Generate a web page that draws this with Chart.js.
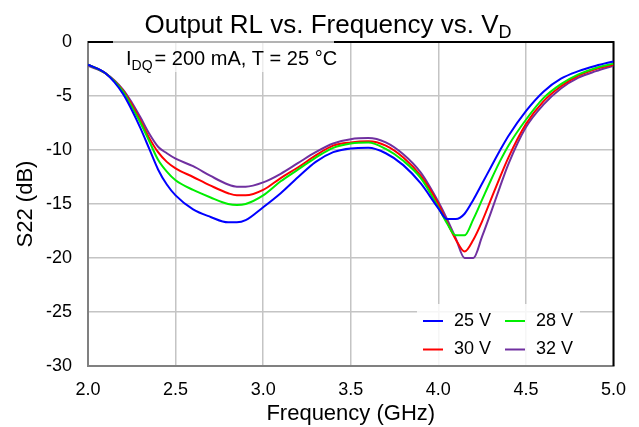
<!DOCTYPE html>
<html lang="en">
<head>
    <meta charset="UTF-8">
    <title>Output RL vs. Frequency vs. VD</title>
    <script src="https://cdn.jsdelivr.net/npm/chart.js"></script>
    <style>
        body { margin: 0; background: #fff; }
    </style>
</head>
<body>
    <canvas id="rlChart" width="639" height="427"></canvas>

    <script>
        // Frequency points (GHz) and S22 (dB)
        const freq = [2.0, 2.1, 2.2, 2.25, 2.3, 2.35, 2.4, 2.45, 2.5, 2.6, 2.7, 2.8, 2.85, 2.9,
            3.0, 3.1, 3.2, 3.3, 3.4, 3.5, 3.6, 3.7, 3.8, 3.9, 4.0, 4.05, 4.1, 4.15, 4.2, 4.25,
            4.3, 4.35, 4.4, 4.5, 4.6, 4.7, 4.8, 4.9, 5.0];

        const s22_25V = [-2.1, -2.9, -4.8, -6.3, -8.0, -9.9, -11.8, -13.2, -14.2, -15.5, -16.2, -16.7, -16.7, -16.5,
            -15.3, -14.0, -12.5, -11.1, -10.2, -9.85, -9.8, -10.3, -11.4, -13.1, -15.4, -16.4, -16.4, -15.9, -14.6, -13.1,
            -11.6, -10.1, -8.7, -6.4, -4.6, -3.4, -2.7, -2.2, -1.8];

        const s22_28V = [-2.1, -2.9, -4.6, -6.0, -7.5, -9.2, -10.9, -12.0, -12.8, -13.7, -14.4, -15.0, -15.1, -15.0,
            -14.2, -12.9, -11.8, -10.7, -9.8, -9.4, -9.3, -9.9, -11.0, -12.6, -15.3, -16.8, -17.9, -17.9, -16.4, -14.6,
            -12.8, -11.1, -9.6, -7.2, -5.2, -3.9, -3.0, -2.4, -2.0];

        const s22_30V = [-2.1, -2.9, -4.5, -5.8, -7.3, -8.9, -10.2, -11.1, -11.7, -12.5, -13.3, -14.0, -14.2, -14.2,
            -13.7, -12.6, -11.6, -10.5, -9.6, -9.3, -9.2, -9.6, -10.7, -12.4, -15.0, -16.7, -18.3, -19.4, -18.3, -16.6,
            -14.6, -12.6, -10.7, -7.6, -5.5, -4.1, -3.1, -2.5, -2.1];

        const s22_32V = [-2.2, -2.9, -4.4, -5.6, -7.0, -8.5, -9.7, -10.3, -10.8, -11.5, -12.4, -13.2, -13.4, -13.4,
            -13.0, -12.2, -11.2, -10.2, -9.4, -9.0, -8.9, -9.3, -10.4, -12.1, -14.8, -16.4, -18.2, -20.0, -20.0, -18.0,
            -15.8, -13.5, -11.3, -7.9, -5.8, -4.3, -3.3, -2.7, -2.2];

        const seriesLabels = ['25 V', '28 V', '30 V', '32 V'];
        const seriesColors = ['#0000ff', '#00ee00', '#ff0000', '#7030a0'];
        const xTicks = [2.0, 2.5, 3.0, 3.5, 4.0, 4.5, 5.0];
        const yTicks = [0, -5, -10, -15, -20, -25, -30];

        const FONT = "'Liberation Sans', Arial, Helvetica, sans-serif";

        function toPoints(values) {
            return freq.map((f, i) => ({ x: f, y: values[i] }));
        }

        // title, note box, legend and top/right frame
        const decorPlugin = {
            id: 'decor',
            beforeDatasetsDraw(chart) {
                const ctx = chart.ctx;
                const a = chart.chartArea;
                ctx.save();

                // frame top / right in black
                ctx.strokeStyle = '#000';
                ctx.lineWidth = 2;
                ctx.beginPath();
                ctx.moveTo(a.left, a.top);
                ctx.lineTo(a.right, a.top);
                ctx.lineTo(a.right, a.bottom);
                ctx.stroke();

                // note box
                ctx.fillStyle = 'rgba(255,255,255,0.7)';
                ctx.fillRect(113, 36, 221, 36);
                ctx.fillStyle = '#000';
                ctx.textBaseline = 'alphabetic';
                ctx.textAlign = 'left';
                ctx.font = '20px ' + FONT;
                ctx.fillText('I', 126, 65);
                let x = 126 + ctx.measureText('I').width;
                ctx.font = '14px ' + FONT;
                ctx.fillText('DQ', x, 70);
                x += ctx.measureText('DQ').width + 2;
                ctx.font = '20px ' + FONT;
                ctx.fillText('= 200 mA, T = 25 °C', x, 65);

                // legend box
                ctx.fillStyle = 'rgba(255,255,255,0.85)';
                ctx.fillRect(417, 304, 163, 61);
                ctx.font = '18px ' + FONT;
                ctx.textBaseline = 'middle';
                chart.data.datasets.forEach((ds, i) => {
                    const col = i % 2 === 0 ? 0 : 1;
                    const row = i < 2 ? 0 : 1;
                    const lx = 423 + col * 82;
                    const ly = 321 + row * 28.5;
                    ctx.strokeStyle = ds.borderColor;
                    ctx.lineWidth = 2;
                    ctx.beginPath();
                    ctx.moveTo(lx, ly);
                    ctx.lineTo(lx + 20, ly);
                    ctx.stroke();
                    ctx.fillStyle = '#000';
                    ctx.fillText(ds.label, lx + 31, ly);
                });

                // chart title with subscript
                ctx.textBaseline = 'alphabetic';
                ctx.fillStyle = '#000';
                ctx.font = '26px ' + FONT;
                const main = 'Output RL vs. Frequency vs. V';
                const w1 = ctx.measureText(main).width;
                ctx.font = '18px ' + FONT;
                const w2 = ctx.measureText('D').width;
                const tx = 328 - (w1 + w2) / 2;
                ctx.font = '26px ' + FONT;
                ctx.fillText(main, tx, 33);
                ctx.font = '18px ' + FONT;
                ctx.fillText('D', tx + w1, 38);

                ctx.restore();
            }
        };

        const ctx = document.getElementById('rlChart').getContext('2d');
        const rlChart = new Chart(ctx, {
            type: 'line',
            data: {
                datasets: [
                    { label: seriesLabels[0], data: toPoints(s22_25V), borderColor: seriesColors[0] },
                    { label: seriesLabels[1], data: toPoints(s22_28V), borderColor: seriesColors[1] },
                    { label: seriesLabels[2], data: toPoints(s22_30V), borderColor: seriesColors[2] },
                    { label: seriesLabels[3], data: toPoints(s22_32V), borderColor: seriesColors[3] },
                ].map(ds => Object.assign(ds, {
                    borderWidth: 2,
                    pointRadius: 0,
                    fill: false,
                    cubicInterpolationMode: 'monotone',
                })),
            },
            options: {
                responsive: false,
                animation: false,
                devicePixelRatio: 1,
                layout: { padding: { top: 42, right: 25, left: 0, bottom: 0 } },
                plugins: {
                    legend: { display: false },
                    title: { display: false },
                    tooltip: { enabled: false },
                },
                scales: {
                    x: {
                        type: 'linear',
                        min: 2,
                        max: 5,
                        afterBuildTicks: scale => { scale.ticks = xTicks.map(v => ({ value: v })); },
                        afterFit: scale => { scale.height = 61; },
                        ticks: {
                            callback: v => Number(v).toFixed(1),
                            color: '#000',
                            font: { family: FONT, size: 18 },
                            padding: 13,
                            maxRotation: 0,
                        },
                        grid: { color: '#c4c4c4', lineWidth: 1.5, drawTicks: false },
                        border: { color: '#808080', width: 2 },
                        title: {
                            display: true,
                            text: 'Frequency (GHz)',
                            color: '#000',
                            font: { family: FONT, size: 22 },
                            padding: { top: 4, bottom: 0 },
                        },
                    },
                    y: {
                        min: -30,
                        max: 0,
                        afterBuildTicks: scale => { scale.ticks = yTicks.map(v => ({ value: v })); },
                        afterFit: scale => { scale.width = 88; },
                        ticks: {
                            color: '#000',
                            font: { family: FONT, size: 18 },
                            padding: 16,
                        },
                        grid: { color: '#c4c4c4', lineWidth: 1.5, drawTicks: false },
                        border: { color: '#808080', width: 2 },
                        title: {
                            display: true,
                            text: 'S22 (dB)',
                            color: '#000',
                            font: { family: FONT, size: 22 },
                            padding: { top: 13, bottom: 0 },
                        },
                    },
                },
            },
            plugins: [decorPlugin],
        });
    </script>
</body>
</html>
